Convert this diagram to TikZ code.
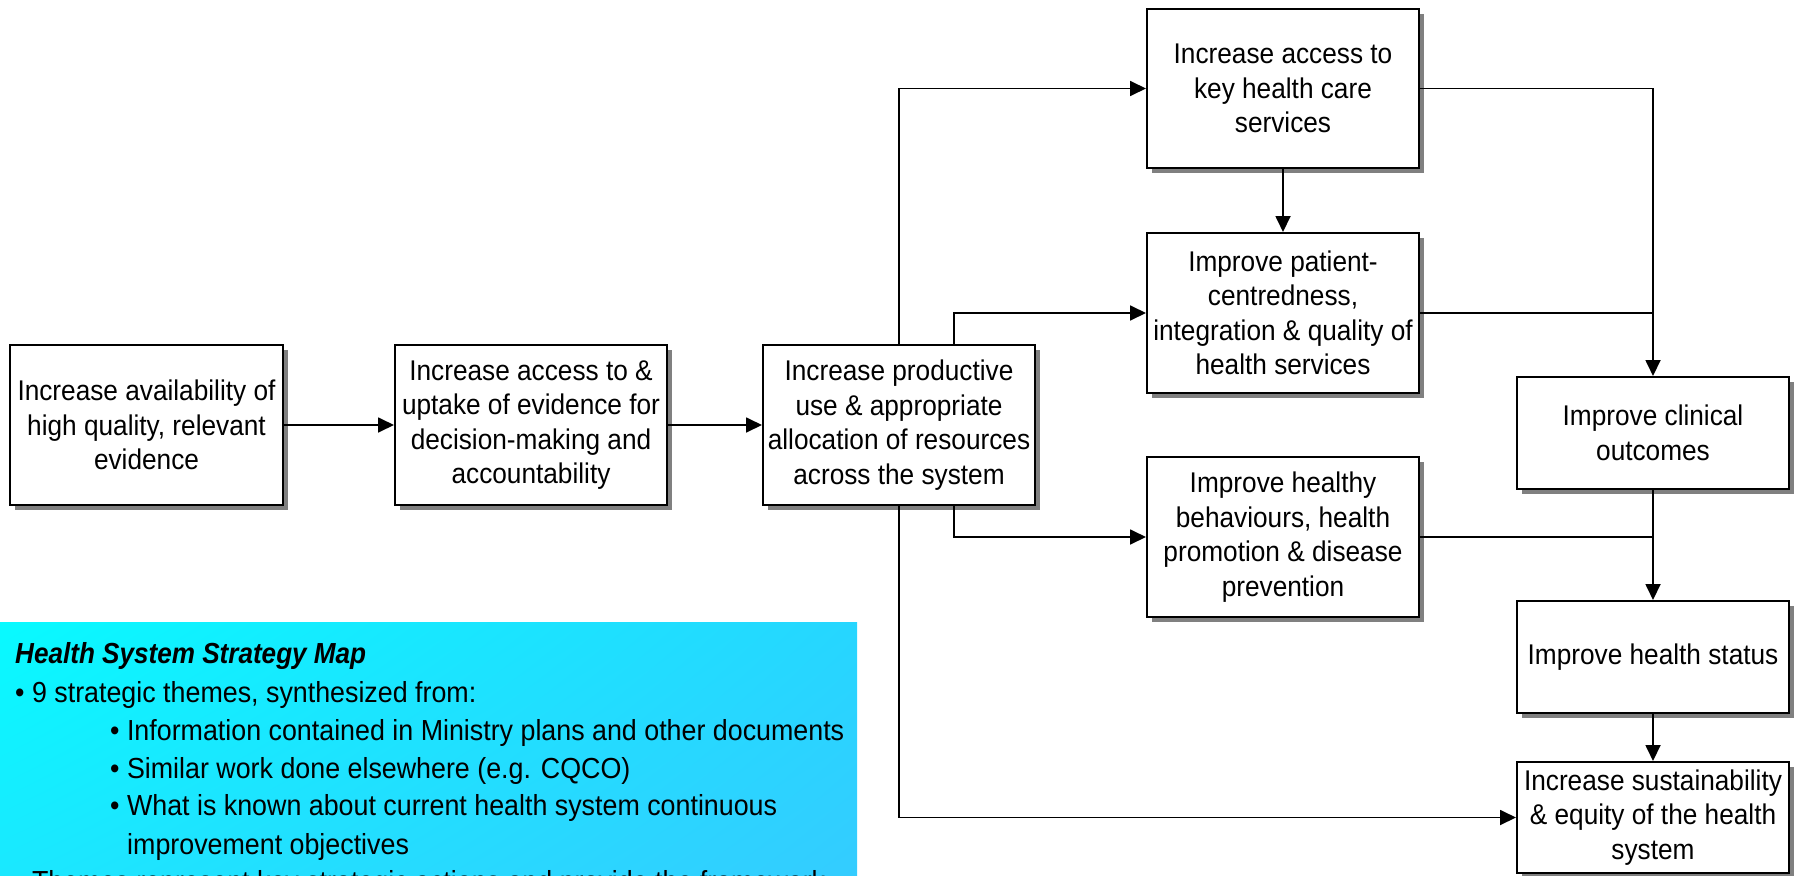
\documentclass[tikz,border=0pt]{standalone}
\usepackage{fontspec}
\setmainfont{Liberation Sans}[FakeStretch=0.92]
\newfontfamily\panelfont{Liberation Sans}[FakeStretch=0.925]
\newfontfamily\titlefont{Liberation Sans}[FakeStretch=0.9]
\usetikzlibrary{arrows.meta,shadows,shadings,calc}
\definecolor{shadowgray}{RGB}{128,128,128}
\definecolor{panelUL}{RGB}{8,250,255}
\definecolor{panelUR}{RGB}{38,214,255}
\definecolor{panelLL}{RGB}{26,232,255}
\definecolor{panelLR}{RGB}{52,204,255}
\begin{document}
\begin{tikzpicture}[x=1bp,y=-1bp,
  goal/.style={draw=black, line width=2bp, fill=white,
    minimum width=272bp, minimum height=160bp, inner sep=0pt,
    align=center, font=\fontsize{28.5bp}{34.5bp}\selectfont,
    drop shadow={shadow xshift=5bp, shadow yshift=-5bp,
      fill=shadowgray, opacity=1}},
  shortgoal/.style={goal, minimum height=112bp},
  link/.style={draw=black, line width=1.8bp},
  arrow/.style={link, -{Triangle[length=16bp,width=15bp]}},
  paneltext/.style={anchor=base west, inner sep=0pt,
    font=\panelfont\fontsize{29bp}{34bp}\selectfont},
]
\useasboundingbox (0,0) rectangle (1797,876);

% explanatory panel
\begin{scope}
  \clip (0,622) rectangle (857,876);
  \shade[upper left=panelUL, upper right=panelUR,
         lower left=panelLL, lower right=panelLR]
    (0,622) rectangle (857,876);
  \node[paneltext, font=\titlefont\bfseries\itshape\fontsize{29bp}{34bp}\selectfont]
    (title) at (15,663) {Health System Strategy Map};
  \node[paneltext] (t1) at (15,702) {• 9 strategic themes, synthesized from:};
  \node[paneltext] (t2) at (110,740) {• Information contained in Ministry plans and other documents};
  \node[paneltext] (t3) at (110,778) {• Similar work done elsewhere (e.g. CQCO)};
  \node[paneltext] (t4) at (110,815) {• What is known about current health system continuous};
  \node[paneltext] (t5) at (127,854) {improvement objectives};
  \node[paneltext] (t6) at (15,891) {• Themes represent key strategic actions and provide the framework};
\end{scope}

% strategic themes
\node[goal] (b1) at (146.5,425) {Increase availability of\\high quality, relevant\\evidence};
\node[goal] (b2) at (531,425) {Increase access to \&\\uptake of evidence for\\decision-making and\\accountability};
\node[goal] (b3) at (899,425) {Increase productive\\use \& appropriate\\allocation of resources\\across the system};
\node[goal, minimum height=159bp] (b4) at (1283,88.5) {Increase access to\\key health care\\services};
\node[goal] (b5) at (1283,313) {Improve patient-\\centredness,\\integration \& quality of\\health services};
\node[goal] (b6) at (1283,537) {Improve healthy\\behaviours, health\\promotion \& disease\\prevention};
\node[shortgoal] (b7) at (1653,433) {Improve clinical\\outcomes};
\node[shortgoal] (b8) at (1653,657) {Improve health status};
\node[shortgoal, minimum height=111bp] (b9) at (1653,817.5) {Increase sustainability\\\& equity of the health\\system};

% connectors
\draw[arrow] (b1.east) -- (b2.west);
\draw[arrow] (b2.east) -- (b3.west);
\draw[arrow] (b3.north) |- (b4.west);
\draw[arrow] ($(b3.north)+(55,0)$) |- (b5.west);
\draw[arrow] ($(b3.south)+(55,0)$) |- (b6.west);
\draw[arrow] (b3.south) |- (b9.west);
\draw[arrow] (b4.south) -- (b5.north);
\draw[arrow] (b4.east) -| (b7.north);
\draw[link] (b5.east) -- (b5.east -| b7.north);
\draw[arrow] (b7.south) -- (b8.north);
\draw[link] (b6.east) -- (b6.east -| b8.north);
\draw[arrow] (b8.south) -- (b9.north);
\end{tikzpicture}
\end{document}
